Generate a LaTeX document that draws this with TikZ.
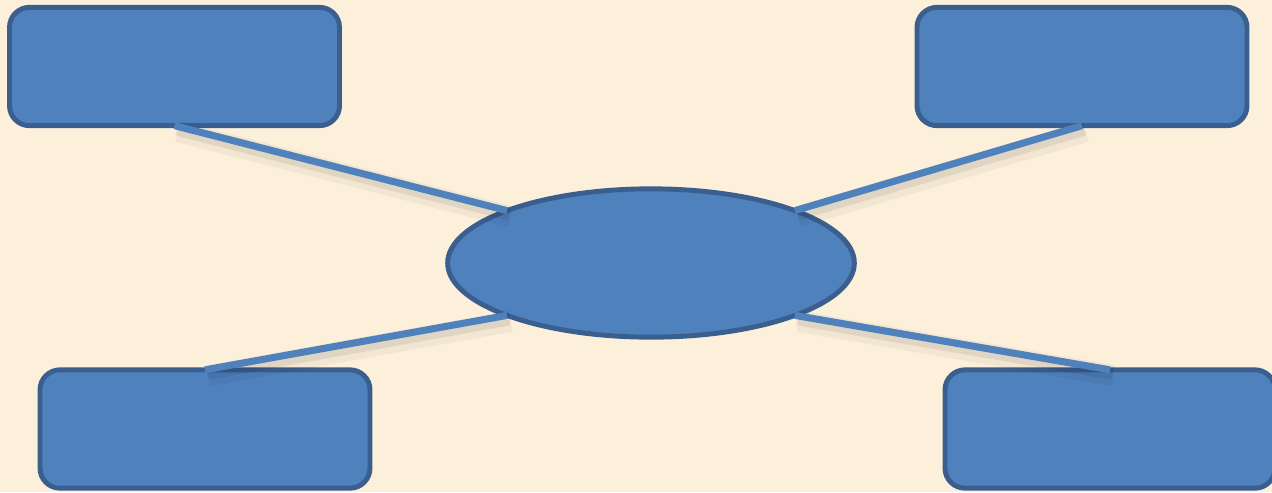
\documentclass[tikz,border=0pt]{standalone}
\usepackage{tikz}
\usetikzlibrary{shapes.geometric}

\definecolor{paper}{HTML}{FCF0DB}
\definecolor{boxblue}{HTML}{4F81BD}
\definecolor{boxedge}{HTML}{3A5F8E}

\begin{document}
\begin{tikzpicture}[x=0.03cm, y=-0.03cm,
    box/.style={draw=boxedge, fill=boxblue, line width=4.2pt, rounded corners=0.6cm,
      minimum width=9.9cm, minimum height=3.55cm, inner sep=0pt, outer sep=0pt},
    hub/.style={draw=boxedge, fill=boxblue, line width=4.2pt, ellipse,
      minimum width=12.2cm, minimum height=4.45cm, inner sep=0pt, outer sep=0pt},
    link/.style={draw=boxblue, line width=6pt,
      preaction={draw=black, opacity=0.04, line width=18pt, transform canvas={xshift=3pt, yshift=-5pt}},
      preaction={draw=black, opacity=0.07, line width=11pt, transform canvas={xshift=2pt, yshift=-3pt}}}]
        % Paper background
        \fill[paper] (0,0) rectangle (1272,492);
        \useasboundingbox (0,0) rectangle (1272,492);
        
        % Corner boxes
        \node[box] (tl) at (174.5,66.5) {};
        \node[box] (tr) at (1082,66.5) {};
        \node[box] (bl) at (205,429) {};
        \node[box] (br) at (1110,429) {};
        
        % Center
        \node[hub] (hub) at (651,263) {};
        
        % Spokes
        \draw[link] (tl.south) -- (hub.160);
        \draw[link] (tr.south) -- (hub.20);
        \draw[link] (bl.north) -- (hub.200);
        \draw[link] (br.north) -- (hub.340);
      \end{tikzpicture}
\end{document}
